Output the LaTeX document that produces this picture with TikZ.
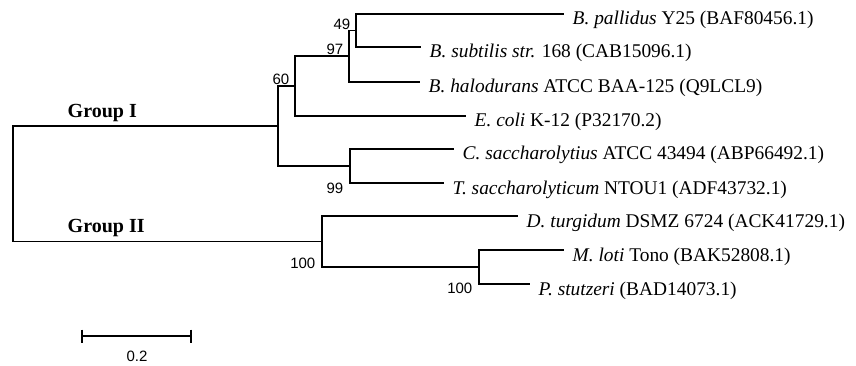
\documentclass[tikz,border=0pt]{standalone}
\usepackage{fontspec}
\setmainfont{Liberation Serif}
\newfontfamily\arialfont{Liberation Sans}
\begin{document}
\begin{tikzpicture}[x=1pt,y=-1pt,
  br/.style={line width=1.8pt, line join=miter, line cap=rect},
  taxon/.style={anchor=base west, inner sep=0pt, font=\fontsize{19.4}{22}\selectfont},
  boot/.style={anchor=east, inner sep=0pt, font=\arialfont\fontsize{15}{17}\selectfont},
  grp/.style={anchor=base west, inner sep=0pt, font=\bfseries\fontsize{20}{23}\selectfont}]
\useasboundingbox (0,0) rectangle (856,366);
% internal nodes
\coordinate (root) at (13,184);
\coordinate (n60) at (278,126);
\coordinate (nBE) at (295,86);
\coordinate (n97) at (349,56);
\coordinate (n49) at (356,30.5);
\coordinate (nCT) at (350,166);
\coordinate (nG2) at (322,241.5);
\coordinate (nMP) at (479,267);
% tips
\coordinate (tpal) at (563,14);
\coordinate (tsub) at (420,47);
\coordinate (thal) at (419,82);
\coordinate (teco) at (465,116);
\coordinate (tcsa) at (453,149);
\coordinate (ttsa) at (443,183);
\coordinate (tdtu) at (517,216);
\coordinate (tmlo) at (563,250);
\coordinate (tpst) at (529,284);
% taxa labels
\node[taxon] (pal) at ([shift={(9.5,11)}]tpal) {\textit{B. pallidus} Y25 (BAF80456.1)};
\node[taxon] (sub) at ([shift={(9.5,11)}]tsub) {\textit{B. subtilis str.} 168 (CAB15096.1)};
\node[taxon] (hal) at ([shift={(9.5,11)}]thal) {\textit{B. halodurans} ATCC BAA-125 (Q9LCL9)};
\node[taxon] (eco) at ([shift={(9.5,11)}]teco) {\textit{E. coli} K-12 (P32170.2)};
\node[taxon] (csa) at ([shift={(9.5,11)}]tcsa) {\textit{C. saccharolytius} ATCC 43494 (ABP66492.1)};
\node[taxon] (tsa) at ([shift={(9.5,11)}]ttsa) {\textit{T. saccharolyticum} NTOU1 (ADF43732.1)};
\node[taxon] (dtu) at ([shift={(9.5,11)}]tdtu) {\textit{D. turgidum} DSMZ 6724 (ACK41729.1)};
\node[taxon] (mlo) at ([shift={(9.5,11)}]tmlo) {\textit{M. loti} Tono (BAK52808.1)};
\node[taxon] (pst) at ([shift={(9.5,11)}]tpst) {\textit{P. stutzeri} (BAD14073.1)};
% branches
\draw[br] (root) |- (n60);
\draw[br] (root) |- (nG2);
\draw[br] (n60) |- (nBE);
\draw[br] (n60) |- (nCT);
\draw[br] (nBE) |- (n97);
\draw[br] (nBE) |- (teco);
\draw[br] (n97) |- (n49);
\draw[br] (n97) |- (thal);
\draw[br] (n49) |- (tpal);
\draw[br] (n49) |- (tsub);
\draw[br] (nCT) |- (tcsa);
\draw[br] (nCT) |- (ttsa);
\draw[br] (nG2) |- (tdtu);
\draw[br] (nG2) |- (nMP);
\draw[br] (nMP) |- (tmlo);
\draw[br] (nMP) |- (tpst);
% bootstrap values
\node[boot] (b49) at (350.5,24) {49};
\node[boot] (b97) at (343.5,49) {97};
\node[boot] (b60) at (289.5,79) {60};
\node[boot] (b99) at (343.5,188) {99};
\node[boot] (b100a) at (315.5,263.5) {100};
\node[boot] (b100b) at (472.5,288) {100};
% group labels
\node[grp] (g1) at (67.5,117.5) {Group I};
\node[grp] (g2) at (67.5,232.3) {Group II};
% scale bar
\coordinate (sb1) at (82,336);
\coordinate (sb2) at (191,336);
\draw[br] (sb1) -- (sb2);
\draw[line width=1.8pt] ([yshift=6.5pt]sb1) -- ([yshift=-6.5pt]sb1);
\draw[line width=1.8pt] ([yshift=6.5pt]sb2) -- ([yshift=-6.5pt]sb2);
\node[boot, anchor=center] (sbl) at (137,356) {0.2};
\end{tikzpicture}
\end{document}
